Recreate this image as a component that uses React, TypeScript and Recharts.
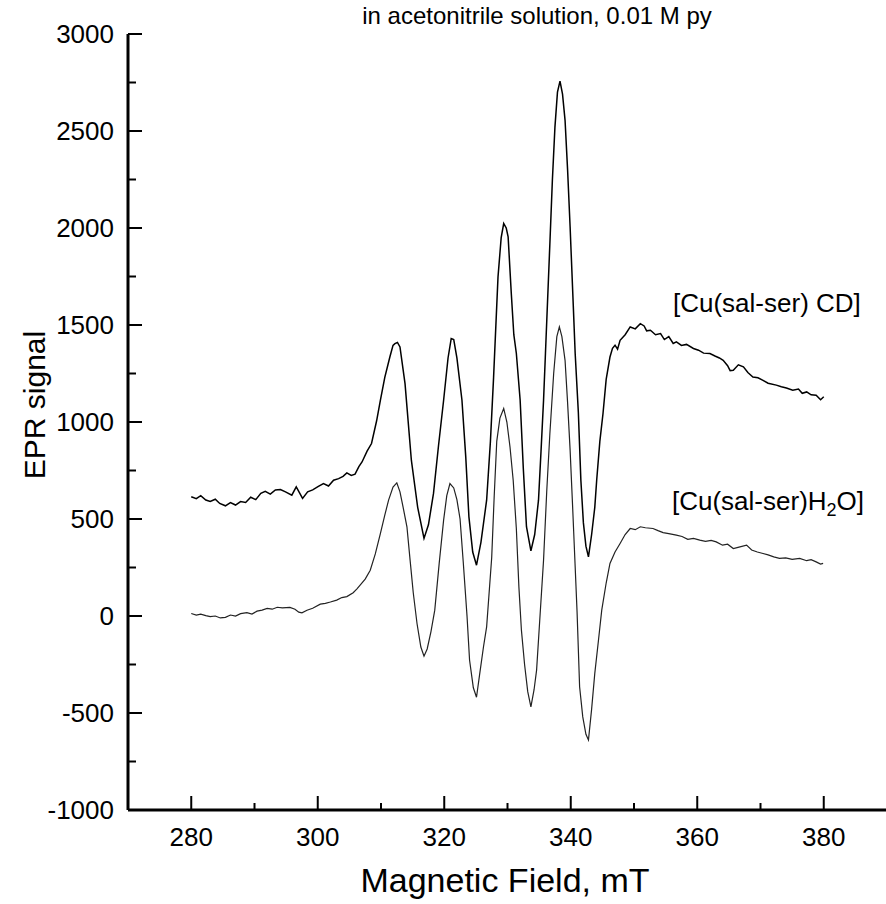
import { LineChart, Line, XAxis, YAxis } from 'recharts'

// EPR spectra of [Cu(sal-ser)] — field in mT, signal in arbitrary units
const fieldMajor = [280, 300, 320, 340, 360, 380]
const fieldMinor = [290, 310, 330, 350, 370]
const signalMajor = [-1000, -500, 0, 500, 1000, 1500, 2000, 2500, 3000]
const signalMinor = [-750, -250, 250, 750, 1250, 1750, 2250, 2750]

const cdField = [
  280.0, 280.8, 281.5, 282.3, 283.0, 283.8, 284.5, 285.4, 286.2, 287.0, 287.8, 288.6, 289.4, 290.2,
  291.0, 291.7, 292.5, 293.3, 294.1, 294.9, 295.9, 296.6, 297.6, 298.4, 299.2, 300.1, 300.9, 301.7,
  302.5, 303.3, 304.0, 304.6, 305.3, 305.9, 306.5, 307.0, 307.8, 308.5, 309.3, 309.9, 310.6, 311.4,
  311.9, 312.2, 312.6, 313.0, 313.8, 314.8, 315.8, 316.8, 317.5, 318.3, 319.1, 319.9, 320.6, 321.1,
  321.5, 322.0, 322.8, 323.4, 323.9, 324.5, 325.1, 325.8, 326.7, 327.3, 327.8, 328.5, 329.0, 329.4,
  329.8, 330.1, 330.6, 331.0, 331.4, 332.0, 332.5, 333.0, 333.7, 334.3, 334.9, 335.3, 335.7, 336.0,
  336.7, 337.1, 337.5, 337.9, 338.3, 338.7, 339.1, 339.5, 339.9, 340.4, 340.7, 341.2, 341.6, 342.0,
  342.4, 342.8, 343.3, 343.8, 344.1, 344.6, 345.1, 345.6, 346.2, 346.6, 347.0, 347.4, 347.8, 348.6,
  349.4, 350.2, 351.0, 351.6, 352.0, 352.6, 353.4, 354.2, 354.8, 355.5, 356.2, 356.7, 357.5, 358.3,
  359.4, 360.2, 361.0, 362.0, 362.8, 363.5, 364.1, 364.8, 365.2, 365.7, 366.5, 367.3, 368.0, 368.8,
  369.6, 370.4, 371.2, 372.5, 373.3, 374.1, 375.1, 376.0, 376.6, 377.3, 378.0, 378.8, 379.5, 380.0,
]
const cdSignal = [
  615, 605, 620, 598, 590, 602, 580, 568, 585, 572, 590, 585, 612, 600,
  632, 643, 628, 650, 652, 640, 623, 666, 606, 640, 650, 668, 683, 670,
  700, 708, 720, 738, 725, 731, 770, 794, 850, 889, 1005, 1112, 1230, 1335,
  1395, 1404, 1410, 1387, 1198, 803, 560, 400, 470, 632, 880, 1112, 1330, 1430,
  1425, 1330, 1112, 820, 511, 330, 262, 380, 597, 900, 1230, 1748, 1950, 2023,
  2000, 1954, 1662, 1450, 1353, 1112, 760, 460, 336, 420, 597, 850, 1112, 1353,
  1920, 2250, 2520, 2700, 2757, 2690, 2555, 2300, 2005, 1600, 1353, 1050, 700, 480,
  360, 305, 420, 560, 700, 900, 1044, 1220, 1335, 1380, 1396, 1375, 1421, 1450,
  1490, 1480, 1507, 1495, 1470, 1473, 1450, 1456, 1425, 1440, 1405, 1413, 1395, 1400,
  1379, 1370, 1355, 1353, 1340, 1330, 1318, 1290, 1265, 1267, 1295, 1284, 1255, 1232,
  1228, 1215, 1200, 1190, 1182, 1175, 1164, 1170, 1148, 1155, 1140, 1138, 1115, 1130,
]

const h2oField = [
  280.0, 280.8, 281.5, 282.3, 283.0, 283.8, 284.6, 285.4, 286.2, 287.0, 287.8, 288.8, 289.6, 290.4,
  291.2, 292.0, 292.8, 293.6, 294.4, 295.6, 296.4, 297.0, 297.5, 298.3, 299.2, 300.4, 301.2, 302.0,
  303.0, 303.8, 304.6, 305.6, 306.2, 306.7, 307.5, 308.3, 309.1, 309.9, 310.6, 311.2, 311.9, 312.5,
  313.0, 313.5, 314.1, 314.6, 315.1, 315.7, 316.3, 316.8, 317.3, 317.9, 318.5, 319.2, 319.9, 320.4,
  320.9, 321.5, 322.0, 322.5, 323.0, 323.6, 324.0, 324.6, 325.1, 325.6, 326.2, 326.7, 327.5, 327.9,
  328.3, 328.8, 329.4, 329.9, 330.4, 330.9, 331.4, 331.8, 332.2, 332.7, 333.2, 333.7, 334.2, 334.6,
  335.1, 335.7, 336.2, 336.7, 337.3, 337.8, 338.2, 338.6, 339.1, 339.5, 339.9, 340.3, 340.7, 341.0,
  341.4, 341.9, 342.4, 342.8, 343.3, 343.8, 344.4, 344.9, 345.6, 346.2, 347.0, 347.8, 348.6, 349.4,
  350.2, 351.0, 351.8, 353.0, 353.8, 354.6, 355.5, 356.7, 357.6, 358.5, 359.4, 360.4, 361.3, 362.2,
  363.0, 364.0, 364.8, 365.7, 366.6, 367.8, 368.6, 369.5, 370.4, 371.2, 372.1, 373.0, 374.0, 375.0,
  376.2, 377.3, 378.0, 378.8, 379.5, 379.9,
]
const h2oSignal = [
  13, 5, 10, 2, -3, 0, -10, -7, 5, 0, 12, 17, 10, 25,
  30, 39, 35, 45, 42, 44, 35, 20, 16, 30, 40, 61, 65, 72,
  82, 95, 100, 120, 140, 159, 190, 236, 320, 425, 520, 597, 665, 686,
  640, 560, 460, 288, 120, -40, -160, -207, -170, -80, 30, 271, 494, 620,
  683, 660, 600, 500, 280, 0, -227, -370, -419, -300, -160, -56, 300, 620,
  900, 1020, 1070, 1000, 870, 700, 450, 150, -73, -250, -390, -468, -380, -279,
  -21, 288, 640, 941, 1250, 1440, 1490, 1440, 1318, 1100, 855, 560, 253, 20,
  -365, -520, -610, -639, -480, -296, -120, 30, 170, 271, 330, 374, 420, 451,
  445, 460, 455, 451, 440, 430, 425, 417, 410, 395, 400, 391, 385, 390,
  382, 365, 370, 348, 355, 365, 340, 330, 322, 315, 305, 297, 300, 292,
  297, 285, 290, 279, 268, 271,
]

const cdData = cdField.map((field, i) => ({ field, signal: cdSignal[i] }))
const h2oData = h2oField.map((field, i) => ({ field, signal: h2oSignal[i] }))

const font = 'Arial, "Liberation Sans", Helvetica, sans-serif'

function FieldTick({ x, y, payload }: any) {
  const major = fieldMajor.includes(payload.value)
  return (
    <g>
      <line x1={x} y1={y} x2={x} y2={y - (major ? 14 : 7)} stroke="#000" strokeWidth={2} />
      {major && (
        <text x={x} y={y + 36} textAnchor="middle" fontSize={26} fontFamily={font} fill="#000">
          {payload.value}
        </text>
      )}
    </g>
  )
}

function SignalTick({ x, y, payload }: any) {
  const major = signalMajor.includes(payload.value)
  return (
    <g>
      <line x1={x} y1={y} x2={x + (major ? 14 : 8)} y2={y} stroke="#000" strokeWidth={2} />
      {major && (
        <text x={x - 14} y={y + 9} textAnchor="end" fontSize={26} fontFamily={font} fill="#000">
          {payload.value}
        </text>
      )}
    </g>
  )
}

export default function App() {
  return (
    <div style={{ position: 'absolute', left: 0, top: 0, width: 886, height: 904, overflow: 'hidden', background: '#fff' }}>
      <LineChart width={900} height={904} margin={{ top: 34, right: 13, left: 0, bottom: 0 }}>
        <XAxis
          type="number"
          dataKey="field"
          domain={[270, 390]}
          ticks={[...fieldMajor, ...fieldMinor].sort((a, b) => a - b)}
          interval={0}
          height={94}
          tickSize={0}
          tickMargin={0}
          tick={<FieldTick />}
          axisLine={{ stroke: '#000', strokeWidth: 3 }}
          allowDataOverflow
        />
        <YAxis
          type="number"
          domain={[-1000, 3000]}
          ticks={[...signalMajor, ...signalMinor].sort((a, b) => a - b)}
          interval={0}
          width={128}
          tickSize={0}
          tickMargin={0}
          tick={<SignalTick />}
          axisLine={{ stroke: '#000', strokeWidth: 3 }}
          allowDataOverflow
        />
        <Line data={cdData} dataKey="signal" type="linear" stroke="#000" strokeWidth={1.5} dot={false} isAnimationActive={false} />
        <Line data={h2oData} dataKey="signal" type="linear" stroke="#222" strokeWidth={1.2} dot={false} isAnimationActive={false} />
      </LineChart>
      <svg width={886} height={904} style={{ position: 'absolute', left: 0, top: 0, pointerEvents: 'none' }}>
        <text x={537} y={24} textAnchor="middle" fontSize={24} fontFamily={font}>
          in acetonitrile solution, 0.01 M py
        </text>
        <text x={673} y={312} fontSize={26} fontFamily={font}>
          [Cu(sal-ser) CD]
        </text>
        <text x={672} y={510} fontSize={26} fontFamily={font}>
          [Cu(sal-ser)H<tspan fontSize={18} dy={6}>2</tspan>
          <tspan dy={-6}>O]</tspan>
        </text>
        <text x={505} y={892} textAnchor="middle" fontSize={34} fontFamily={font}>
          Magnetic Field, mT
        </text>
        <text x={45} y={405} transform="rotate(-90 45 405)" textAnchor="middle" fontSize={30} fontFamily={font}>
          EPR signal
        </text>
      </svg>
    </div>
  )
}
